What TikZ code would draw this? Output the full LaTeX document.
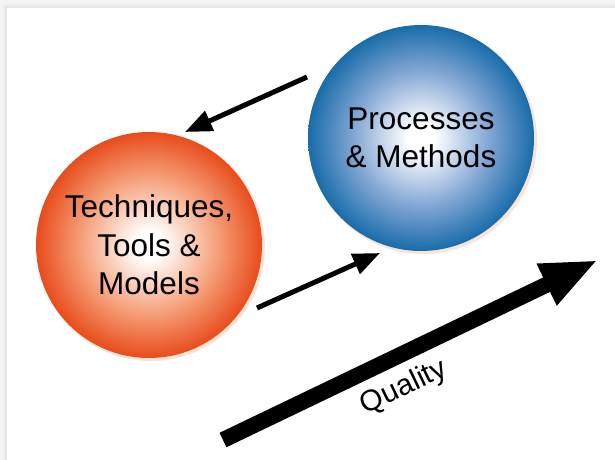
\documentclass[tikz,border=0pt]{standalone}
\usepackage{fontspec}
\setmainfont{Liberation Sans}
\usetikzlibrary{arrows.meta}
\definecolor{oedge}{RGB}{232,76,28}
\definecolor{omid}{RGB}{245,160,122}
\definecolor{bedge}{RGB}{24,108,170}
\definecolor{bmid}{RGB}{130,166,212}
\definecolor{halo}{RGB}{251,228,214}
\pgfdeclareradialshading{orangeball}{\pgfpointorigin}{color(0bp)=(white); color(3bp)=(white); color(15bp)=(omid); color(25bp)=(oedge); color(50bp)=(oedge)}
\pgfdeclareradialshading{blueball}{\pgfpointorigin}{color(0bp)=(white); color(3bp)=(white); color(15bp)=(bmid); color(25bp)=(bedge); color(50bp)=(bedge)}
\begin{document}
\begin{tikzpicture}[x=1bp,y=-1bp,
  ball/.style={circle, minimum size=226bp, inner sep=0pt, align=center,
    font=\fontsize{31.5bp}{38.5bp}\selectfont},
  thinarrow/.style={line width=5bp, -{Triangle[length=27bp,width=21bp]}},
  bigarrow/.style={line width=16bp, -{Triangle[length=57bp,width=42bp]}},
  qlabel/.style={rotate=25.6, inner sep=0pt, font=\fontsize{29.5bp}{34bp}\selectfont}]
\useasboundingbox (0,0) rectangle (615,460);
\fill[gray!8] (0,0) rectangle (615,460);
\fill[gray!13] (3,4) rectangle (615,460);
\fill[gray!19] (5,6) rectangle (615,460);
\fill[white] (7,8) rectangle (615,460);
\fill[halo] (151,247) circle (114bp);
\fill[halo] (423,140) circle (114bp);
\node[ball, shading=orangeball] (tech) at (149,245) {Techniques,\\Tools \&\\Models};
\node[ball, shading=blueball] (proc) at (421,138) {Processes\\\& Methods};
\coordinate (a1s) at (307,77);
\coordinate (a1e) at (185,132);
\coordinate (a2s) at (257,308);
\coordinate (a2e) at (380,253);
\coordinate (qs) at (223,440);
\coordinate (qe) at (598,260);
\draw[thinarrow] (a1s) -- (a1e);
\draw[thinarrow] (a2s) -- (a2e);
\draw[bigarrow] (qs) -- (qe);
\node[qlabel] (qual) at (404,388) {Quality};
\end{tikzpicture}
\end{document}
